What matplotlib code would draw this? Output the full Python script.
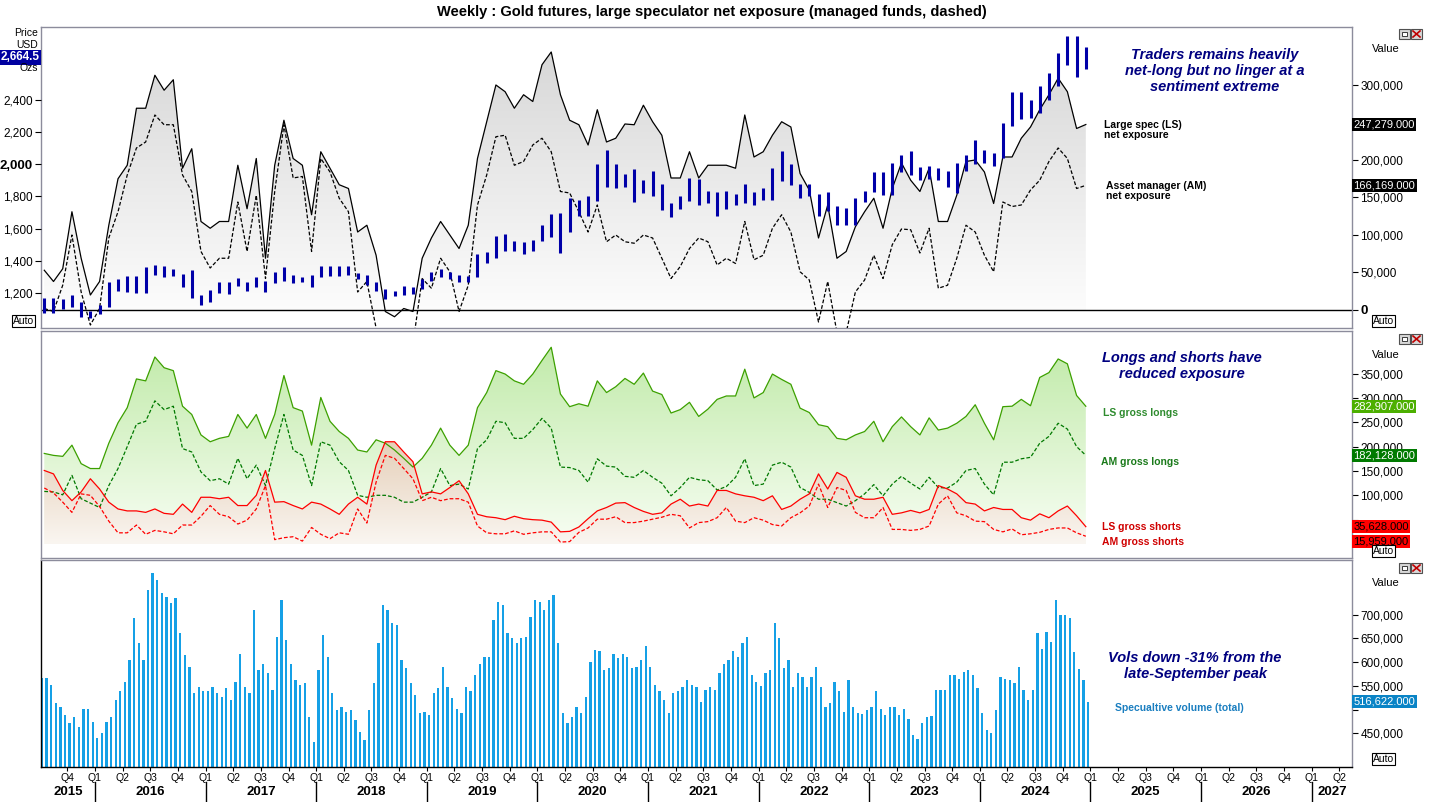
import numpy as np
import matplotlib.pyplot as plt
from matplotlib.path import Path
from matplotlib.patches import Rectangle
from matplotlib.colors import to_rgb

plt.rcParams['font.family'] = ['Liberation Sans', 'DejaVu Sans']

W, H = 1429, 802

# monthly values Jul 2015 .. Dec 2024, in thousands of contracts
ls_net = [53, 38, 55, 131, 69, 20, 38, 113, 175, 193, 269, 269, 313, 293, 307, 189, 215, 118, 109, 118,
          118, 193, 135, 202, 69, 193, 253, 202, 193, 127, 211, 189, 167, 162, 104, 113, 73, -2, -9, 2,
          -2, 69, 96, 118, 100, 82, 113, 202, 251, 300, 291, 269, 287, 278, 327, 344, 287, 253, 247, 220,
          267, 224, 229, 248, 247, 273, 251, 233, 176, 176, 211, 176, 193, 193, 193, 189, 260, 204, 211, 233,
          251, 244, 182, 160, 96, 140, 69, 78, 111, 131, 149, 109, 162, 196, 173, 158, 189, 118, 118, 153,
          198, 200, 184, 142, 204, 204, 229, 244, 267, 287, 309, 291, 242, 247.279]
am_net = [2, -2, 33, 100, 24, -20, 2, 96, 131, 180, 216, 224, 260, 247, 247, 180, 158, 78, 56, 69,
          69, 144, 78, 153, 42, 158, 247, 176, 178, 78, 202, 184, 149, 131, 24, 38, -24, -70, -80, -65,
          -45, 42, 29, 69, 51, -2, 33, 140, 180, 231, 233, 193, 198, 220, 229, 211, 158, 156, 131, 104,
          140, 91, 100, 91, 89, 100, 96, 69, 42, 58, 82, 96, 91, 60, 69, 62, 118, 67, 73, 109,
          127, 104, 51, 40, -16, 38, -30, -30, 24, 40, 73, 42, 87, 108, 107, 76, 109, 29, 33, 69,
          113, 104, 73, 51, 144, 138, 140, 160, 173, 198, 216, 202, 162, 166.169]
ls_long = [186, 182, 180, 203, 165, 155, 155, 207, 249, 280, 339, 335, 384, 362, 356, 283, 266, 224, 210, 217,
           221, 266, 238, 266, 217, 266, 346, 280, 273, 203, 301, 252, 231, 217, 193, 189, 214, 207, 193, 176,
           158, 176, 203, 238, 203, 182, 203, 280, 311, 356, 349, 335, 328, 349, 377, 404, 308, 282, 288, 283,
           335, 311, 323, 340, 328, 351, 314, 307, 269, 276, 291, 262, 277, 297, 304, 304, 359, 300, 311, 349,
           338, 328, 279, 270, 245, 241, 217, 214, 224, 231, 252, 210, 241, 261, 241, 224, 259, 234, 238, 248,
           262, 286, 248, 214, 282, 283, 297, 284, 342, 352, 380, 370, 305, 282.907]
am_long = [108, 107, 101, 141, 93, 84, 75, 120, 155, 200, 246, 252, 294, 276, 283, 196, 189, 148, 130, 134,
           123, 176, 134, 162, 120, 196, 266, 193, 182, 120, 210, 203, 169, 151, 100, 96, 100, 100, 96, 86,
           86, 96, 107, 155, 120, 123, 113, 196, 214, 252, 249, 217, 217, 235, 258, 238, 158, 157, 151, 127,
           175, 160, 158, 139, 137, 151, 137, 125, 99, 116, 137, 132, 130, 111, 118, 137, 175, 120, 123, 162,
           168, 158, 116, 106, 92, 92, 85, 78, 89, 103, 122, 99, 123, 139, 125, 113, 137, 116, 115, 127,
           151, 155, 123, 101, 168, 168, 175, 178, 207, 221, 248, 236, 200, 182.128]
ls_short = [151, 144, 110, 89, 107, 134, 113, 86, 72, 68, 68, 65, 72, 63, 61, 82, 65, 96, 96, 93,
            96, 79, 79, 100, 151, 86, 87, 79, 72, 86, 82, 72, 61, 82, 96, 82, 162, 210, 210, 189,
            169, 103, 107, 103, 116, 130, 103, 61, 56, 54, 50, 57, 52, 50, 49, 45, 25, 26, 35, 52,
            68, 75, 84, 85, 75, 67, 61, 64, 82, 92, 78, 82, 78, 110, 110, 103, 99, 96, 89, 99,
            71, 78, 92, 103, 144, 113, 147, 137, 99, 92, 92, 96, 61, 64, 69, 64, 71, 120, 113, 103,
            85, 82, 68, 75, 71, 71, 54, 49, 62, 54, 68, 78, 58, 35.628]
am_short = [115, 105, 86, 65, 103, 100, 77, 47, 23, 23, 39, 20, 28, 25, 21, 39, 39, 57, 79, 61,
            56, 41, 49, 72, 120, 9, 13, 15, 6, 34, 20, 11, 23, 20, 72, 43, 127, 182, 176, 155,
            134, 89, 96, 89, 93, 93, 86, 37, 23, 21, 21, 27, 20, 23, 25, 25, 4, 5, 24, 33,
            51, 51, 56, 44, 44, 47, 51, 55, 61, 58, 33, 44, 46, 54, 75, 47, 44, 54, 49, 40,
            37, 54, 64, 78, 123, 75, 116, 110, 65, 54, 54, 75, 30, 30, 28, 30, 37, 82, 99, 64,
            58, 47, 46, 30, 25, 31, 19, 21, 24, 30, 33, 33, 23, 15.959]

# gold futures monthly range, USD/oz
px_low = [1077, 1077, 1100, 1110, 1050, 1046,
          1072, 1110, 1210, 1206, 1200, 1200, 1310, 1300, 1305, 1240, 1170, 1125,
          1145, 1200, 1195, 1245, 1215, 1240, 1205, 1260, 1275, 1260, 1265, 1236,
          1300, 1305, 1305, 1310, 1285, 1250, 1210, 1160, 1180, 1185, 1195, 1225,
          1275, 1300, 1285, 1265, 1265, 1300, 1385, 1415, 1460, 1460, 1445, 1460,
          1520, 1550, 1450, 1580, 1680, 1680, 1770, 1860, 1850, 1860, 1765, 1820,
          1800, 1715, 1675, 1725, 1770, 1750, 1760, 1680, 1720, 1745, 1760, 1750,
          1780, 1780, 1895, 1870, 1790, 1805, 1680, 1710, 1620, 1620, 1620, 1765,
          1825, 1810, 1810, 1950, 1935, 1900, 1910, 1900, 1860, 1820, 1960, 2000,
          2010, 1990, 2040, 2240, 2280, 2290, 2320, 2400, 2490, 2620, 2540, 2590]
px_high = [1170, 1170, 1160, 1190, 1145, 1090,
           1125, 1265, 1285, 1305, 1305, 1360, 1375, 1370, 1350, 1320, 1340, 1190,
           1220, 1265, 1265, 1295, 1270, 1300, 1275, 1330, 1360, 1310, 1300, 1310,
           1370, 1365, 1365, 1370, 1325, 1310, 1265, 1225, 1215, 1245, 1240, 1285,
           1330, 1350, 1330, 1310, 1305, 1440, 1455, 1555, 1566, 1525, 1515, 1530,
           1620, 1690, 1700, 1790, 1775, 1800, 2000, 2090, 2000, 1940, 1970, 1900,
           1960, 1875, 1760, 1800, 1915, 1910, 1835, 1830, 1835, 1815, 1880, 1830,
           1855, 1975, 2080, 2000, 1880, 1880, 1815, 1830, 1740, 1730, 1790, 1835,
           1950, 1950, 2010, 2060, 2080, 1985, 1990, 1980, 1960, 2010, 2060, 2150,
           2090, 2070, 2260, 2450, 2450, 2400, 2490, 2570, 2690, 2800, 2800, 2730]
last_price = 2664.5

# speculative volume, half-month readings, thousands
vol = [566, 566, 552, 513, 506, 488, 472, 485, 464, 502, 502, 474, 439, 450, 474, 485, 520, 538, 559, 604,
       692, 640, 604, 752, 787, 773, 745, 738, 724, 735, 661, 615, 590, 534, 548, 538, 538, 548, 534, 527,
       545, 520, 559, 618, 548, 534, 710, 583, 597, 576, 541, 654, 731, 647, 597, 562, 552, 555, 485, 432,
       583, 657, 611, 534, 499, 506, 495, 499, 478, 453, 436, 499, 555, 640, 720, 710, 682, 678, 604, 587,
       555, 531, 492, 495, 488, 534, 545, 590, 548, 524, 502, 492, 548, 538, 573, 597, 611, 611, 689, 727,
       720, 661, 650, 640, 650, 654, 696, 731, 727, 710, 731, 742, 640, 492, 471, 485, 506, 492, 527, 601,
       626, 624, 583, 587, 618, 608, 618, 611, 587, 590, 604, 634, 590, 552, 540, 520, 492, 534, 538, 548,
       562, 552, 548, 516, 541, 548, 541, 576, 597, 604, 624, 611, 640, 654, 573, 557, 550, 576, 583, 682,
       650, 587, 604, 548, 576, 569, 548, 569, 589, 548, 506, 513, 559, 538, 495, 562, 506, 492, 490, 499,
       506, 538, 502, 488, 506, 506, 488, 502, 479, 446, 437, 471, 485, 486, 541, 541, 541, 573, 573, 564,
       580, 583, 573, 545, 492, 457, 450, 499, 568, 564, 562, 555, 590, 541, 520, 541, 661, 627, 664, 643,
       731, 699, 699, 692, 622, 585, 562, 516.622]

t_m = 2015.5 + (np.arange(len(ls_net)) + 0.5) / 12
t_h = 2015.5 + (np.arange(len(vol)) + 0.5) / 24

X0, X1 = 2015.512, 2027.365
GRID = '#8c8c9c'


def fx(x):
    return x / W


def fy(y):
    return 1 - y / H


def yr2px(yr):
    return 41 + (yr - X0) / (X1 - X0) * 1311


def grad_fill(ax, x, y, base, ctop, cbot, vtop, vbot, z=1):
    verts = [(x[0], base)] + list(zip(x, y)) + [(x[-1], base), (x[0], base)]
    path = Path(verts, closed=True)
    c0 = np.array(to_rgb(ctop))
    c1 = np.array(to_rgb(cbot))
    f = np.linspace(0, 1, 256)[:, None]
    img = (c0 * (1 - f) + c1 * f)[:, None, :]
    im = ax.imshow(img, extent=[x[0], x[-1], vbot, vtop], aspect='auto',
                   origin='upper', zorder=z, interpolation='bilinear')
    im.set_clip_path(path, transform=ax.transData)


fig = plt.figure(figsize=(W / 100, H / 100), dpi=100)


def panel(top, bottom):
    ax = fig.add_axes([41 / W, 1 - bottom / H, 1311 / W, (bottom - top) / H])
    for s in ax.spines.values():
        s.set_color(GRID)
        s.set_linewidth(1)
    ax.tick_params(axis='x', bottom=False, labelbottom=False)
    ax.yaxis.tick_right()
    ax.tick_params(axis='y', direction='out', length=4, width=0.8, labelsize=8.5, pad=2)
    return ax


def set_vticks(ax, ticks, hidden=()):
    labels = ['' if t in hidden else f"{t * 1000:,}" for t in ticks]
    ax.set_yticks(ticks, labels=labels)


def vbox(ax, v, txt, fc, tc):
    ax.text(1.0012, v, txt, transform=ax.get_yaxis_transform(), ha='left', va='center',
            fontsize=8, color=tc, clip_on=False, zorder=10,
            bbox=dict(boxstyle='square,pad=0.12', fc=fc, ec='none'))


# ---- top panel: net exposure + price
ax1 = panel(27, 328)
grad_fill(ax1, t_m, ls_net, 0, '#d4d4d4', '#ffffff', 377, -24)
ax1.axhline(0, color='black', lw=1, zorder=2)
ax1.plot(t_m, ls_net, color='black', lw=0.9, zorder=3)
ax1.plot(t_m, am_net, color='black', lw=0.9, ls=(0, (3, 1.6)), zorder=3)
ax1.set_xlim(X0, X1)
ax1.set_ylim(-24, 377.3)
set_vticks(ax1, [0, 50, 100, 150, 200, 250, 300], hidden=(250,))
zero_lbl = ax1.get_yticklabels()[0]
zero_lbl.set_fontweight('bold')
zero_lbl.set_fontsize(9.5)
vbox(ax1, ls_net[-1], f"{ls_net[-1] * 1000:,.3f}", 'black', 'white')
vbox(ax1, am_net[-1], f"{am_net[-1] * 1000:,.3f}", 'black', 'white')

axp = fig.add_axes(ax1.get_position())
axp.patch.set_visible(False)
for s in axp.spines.values():
    s.set_visible(False)
axp.vlines(t_m, px_low, px_high, color='#0000a8', lw=2.2, zorder=4)
axp.set_xlim(X0, X1)
axp.set_ylim(982, 2854)
ticks = list(range(1200, 2401, 200))
axp.set_yticks(ticks, labels=[f"{t:,}" for t in ticks])
axp.tick_params(axis='x', bottom=False, labelbottom=False)
axp.tick_params(axis='y', direction='out', length=4, width=0.8, labelsize=8.5, pad=2)
for lbl in axp.get_yticklabels():
    if lbl.get_text() == '2,000':
        lbl.set_fontweight('bold')
        lbl.set_fontsize(9.5)
axp.text(-0.001, last_price, f"{last_price:,.1f}", transform=axp.get_yaxis_transform(),
         ha='right', va='center', fontsize=8.5, color='white', weight='bold', clip_on=False,
         zorder=10, bbox=dict(boxstyle='square,pad=0.12', fc='#0000a0', ec='none'))

# ---- middle panel: gross positions
ax2 = panel(331, 558)
grad_fill(ax2, t_m, ls_long, 0, '#bde9a4', '#f8fef4', 437, 0)
grad_fill(ax2, t_m, ls_short, 0, '#e4cdb6', '#faf6f1', 220, 0, z=1.5)
ax2.plot(t_m, ls_long, color='#3ca000', lw=0.9, zorder=3)
ax2.plot(t_m, am_long, color='#007800', lw=0.9, ls=(0, (3, 1.6)), zorder=3)
ax2.plot(t_m, ls_short, color='#ff0000', lw=0.9, zorder=3)
ax2.plot(t_m, am_short, color='#ff0000', lw=0.9, ls=(0, (3, 1.6)), zorder=3)
ax2.set_xlim(X0, X1)
ax2.set_ylim(-28.7, 437.4)
set_vticks(ax2, [50, 100, 150, 200, 250, 300, 350], hidden=(50,))
vbox(ax2, ls_long[-1], f"{ls_long[-1] * 1000:,.3f}", '#4caf00', 'white')
vbox(ax2, am_long[-1], f"{am_long[-1] * 1000:,.3f}", '#007a00', 'white')
vbox(ax2, ls_short[-1], f"{ls_short[-1] * 1000:,.3f}", '#ff0000', 'black')
vbox(ax2, ls_short[-1] - 30, f"{am_short[-1] * 1000:,.3f}", '#ff0000', 'black')

# ---- bottom panel: volume
ax3 = panel(560, 767)
ax3.bar(t_h, vol, width=0.5 / 24, color='#15a0e6', lw=0, zorder=2)
ax3.set_xlim(X0, X1)
ax3.set_ylim(378.7, 815.4)
set_vticks(ax3, [450, 500, 550, 600, 650, 700], hidden=(500,))
ax3.spines['left'].set_color('black')
ax3.spines['bottom'].set_color('black')
vbox(ax3, vol[-1], f"{vol[-1] * 1000:,.3f}", '#0a84c6', 'white')

qpos = np.arange(2015.75, 2027.26, 0.25)
qlab = ['Q%d' % (int(round((q % 1) * 4)) + 1) for q in qpos]
ax3.set_xticks(qpos, labels=qlab)
ax3.tick_params(axis='x', bottom=True, labelbottom=True, length=3, width=0.8,
                labelsize=7.5, pad=1.5, color='black')

# year row
for yr in range(2015, 2028):
    a, b = max(X0, yr), min(X1, yr + 1)
    fig.text(fx((yr2px(a) + yr2px(b)) / 2), fy(792), str(yr), ha='center', va='center',
             fontsize=9.5, weight='bold', family=['Liberation Sans Narrow', 'Liberation Sans'])
    if yr > 2015:
        fig.add_artist(plt.Line2D([fx(yr2px(yr))] * 2, [fy(782), fy(801)], color='black', lw=1))

# title and notes
fig.text(fx(712), fy(12), 'Weekly : Gold futures, large speculator net exposure (managed funds, dashed)',
         ha='center', va='center', fontsize=10.5, weight='bold')
navy = '#000080'
fig.text(fx(1215), fy(71), 'Traders remains heavily\nnet-long but no linger at a\nsentiment extreme',
         ha='center', va='center', fontsize=10.5, weight='bold', style='italic', color=navy,
         linespacing=1.15)
fig.text(fx(1182), fy(366), 'Longs and shorts have\nreduced exposure', ha='center', va='center',
         fontsize=10.5, weight='bold', style='italic', color=navy, linespacing=1.15)
fig.text(fx(1195), fy(666), 'Vols down -31% from the\nlate-September peak', ha='center', va='center',
         fontsize=10.5, weight='bold', style='italic', color=navy, linespacing=1.15)

fig.text(fx(1104), fy(130), 'Large spec (LS)\nnet exposure', ha='left', va='center', fontsize=7.5,
         weight='bold', linespacing=1.1)
fig.text(fx(1106), fy(191), 'Asset manager (AM)\nnet exposure', ha='left', va='center', fontsize=7.5,
         weight='bold', linespacing=1.1)
fig.text(fx(1103), fy(413), 'LS gross longs', ha='left', va='center', fontsize=7.5, weight='bold',
         color='#2e8b2e')
fig.text(fx(1101), fy(462), 'AM gross longs', ha='left', va='center', fontsize=7.5, weight='bold',
         color='#1a7a1a')
fig.text(fx(1102), fy(527), 'LS gross shorts', ha='left', va='center', fontsize=7.5, weight='bold',
         color='#d00000')
fig.text(fx(1102), fy(542), 'AM gross shorts', ha='left', va='center', fontsize=7.5, weight='bold',
         color='#d00000')
fig.text(fx(1115), fy(708), 'Specualtive volume (total)', ha='left', va='center', fontsize=7.5,
         weight='bold', color='#1a7ec0')

# axis chrome
fig.text(fx(38), fy(33), 'Price', ha='right', va='center', fontsize=7.5)
fig.text(fx(38), fy(45), 'USD', ha='right', va='center', fontsize=7.5, zorder=1)
fig.text(fx(38), fy(68), 'Ozs', ha='right', va='center', fontsize=7.5, zorder=1)
for yv in (49, 355, 583):
    fig.text(fx(1372), fy(yv), 'Value', ha='left', va='center', fontsize=8)
for xv, yv in ((1373, 321), (1373, 551), (1373, 759), (13, 321)):
    fig.text(fx(xv), fy(yv), 'Auto', ha='left', va='center', fontsize=7.5,
             bbox=dict(boxstyle='square,pad=0.1', fc='white', ec='black', lw=0.8))
for yv in (29, 334, 563):
    fig.add_artist(Rectangle((fx(1399), fy(yv + 10)), 11 / W, 10 / H, fc='#d8d8d8', ec='#505050', lw=0.8))
    fig.add_artist(Rectangle((fx(1402), fy(yv + 7)), 5 / W, 4 / H, fc='white', ec='#202020', lw=0.6))
    fig.add_artist(Rectangle((fx(1411), fy(yv + 10)), 11 / W, 10 / H, fc='#d8d8d8', ec='#505050', lw=0.8))
    fig.add_artist(plt.Line2D([fx(1413), fx(1420)], [fy(yv + 2), fy(yv + 8)], color='#c00000', lw=1.2))
    fig.add_artist(plt.Line2D([fx(1413), fx(1420)], [fy(yv + 8), fy(yv + 2)], color='#c00000', lw=1.2))

fig.savefig('out.png', dpi=100)
